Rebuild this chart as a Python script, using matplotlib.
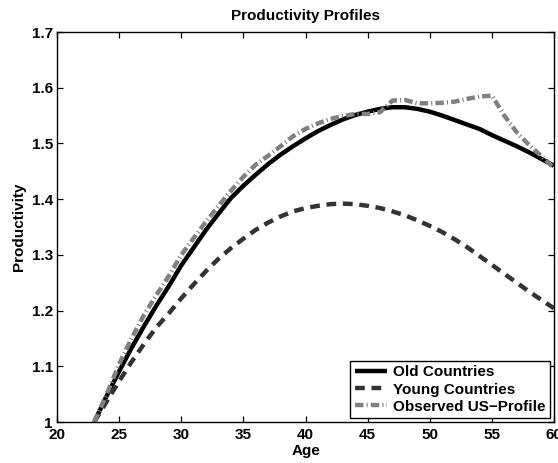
import numpy as np
import matplotlib
matplotlib.use("Agg")
import matplotlib.pyplot as plt

plt.rcParams['font.family'] = ['Liberation Sans', 'DejaVu Sans']
plt.rcParams['font.weight'] = 'bold'

# ages 23..60
age = np.arange(23, 61)

old_countries = [1.000, 1.047, 1.091, 1.133, 1.172, 1.209, 1.244, 1.281, 1.313, 1.345,
                 1.374, 1.402, 1.424, 1.444, 1.463, 1.480, 1.495, 1.509, 1.522, 1.533,
                 1.543, 1.551, 1.557, 1.562, 1.565, 1.565, 1.562, 1.557, 1.550, 1.542,
                 1.534, 1.526, 1.515, 1.505, 1.495, 1.484, 1.472, 1.460]

young_countries = [1.000, 1.037, 1.073, 1.108, 1.140, 1.170, 1.195, 1.222, 1.247, 1.271,
                   1.293, 1.312, 1.329, 1.345, 1.358, 1.369, 1.378, 1.384, 1.388, 1.391,
                   1.392, 1.391, 1.388, 1.384, 1.378, 1.371, 1.362, 1.352, 1.341, 1.328,
                   1.314, 1.298, 1.282, 1.266, 1.250, 1.234, 1.219, 1.204]

observed_us = [1.000, 1.050, 1.104, 1.150, 1.192, 1.228, 1.262, 1.300, 1.330, 1.360,
               1.388, 1.415, 1.440, 1.462, 1.478, 1.495, 1.513, 1.526, 1.536, 1.544,
               1.549, 1.553, 1.553, 1.556, 1.577, 1.578, 1.572, 1.572, 1.573, 1.575,
               1.580, 1.584, 1.586, 1.550, 1.520, 1.497, 1.477, 1.456]

labels = ['Old Countries', 'Young Countries', 'Observed US\u2212Profile']

fig = plt.figure(figsize=(5.58, 4.63), dpi=100)
ax = fig.add_axes([57/558, 1 - 422/463, (554 - 57)/558, (422 - 32)/463])

ax.plot(age, old_countries, color='black', lw=3.2, solid_capstyle='butt')
ax.plot(age, young_countries, color='#333333', lw=3.2, dashes=(2.2, 1.5))
ax.plot(age, observed_us, color='#808080', lw=3.2, dashes=(1.9, 0.7, 0.25, 0.7))

ax.set_xlim(20, 60)
ax.set_ylim(1.0, 1.7)
ax.set_xticks(np.arange(20, 61, 5))
ax.set_yticks(np.arange(1.0, 1.71, 0.1))
ax.set_yticklabels(['1', '1.1', '1.2', '1.3', '1.4', '1.5', '1.6', '1.7'])
ax.tick_params(direction='in', length=4, width=0.9, top=True, right=True,
               labelsize=11)
ax.tick_params(axis='x', pad=4)
ax.tick_params(axis='y', pad=3)
for s in ax.spines.values():
    s.set_linewidth(1.0)

ax.set_title('Productivity Profiles', fontsize=11, fontweight='bold', pad=9)
ax.set_xlabel('Age', fontsize=11, fontweight='bold', labelpad=2)
ax.set_ylabel('Productivity', fontsize=11, fontweight='bold', labelpad=4)

leg = ax.legend(labels, loc='lower right', fontsize=11, fancybox=False,
                edgecolor='black', framealpha=1, handlelength=2.1,
                handletextpad=0.4, labelspacing=0.2, borderpad=0.3,
                borderaxespad=0.25)
leg.get_frame().set_linewidth(1.0)

fig.savefig('out.png', dpi=100)
